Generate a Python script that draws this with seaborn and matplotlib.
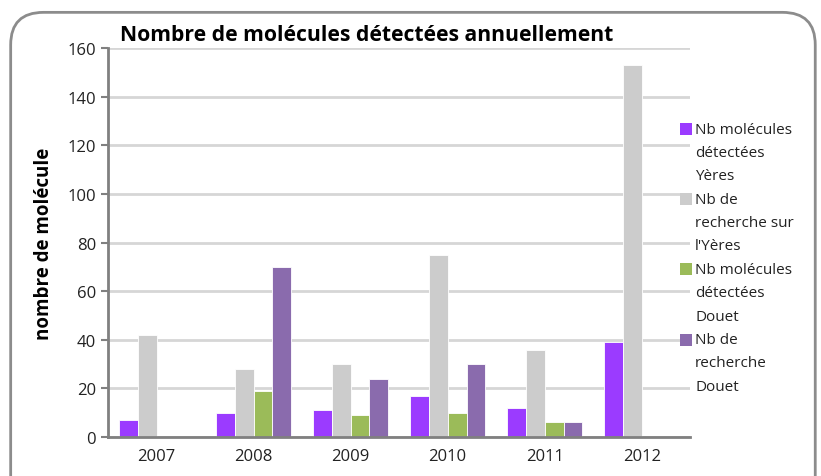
import pandas as pd
import seaborn as sns
import matplotlib.pyplot as plt
from matplotlib.patches import FancyBboxPatch, Rectangle

years = ['2007', '2008', '2009', '2010', '2011', '2012']
series = ['Nb molécules\ndétectées\nYères', 'Nb de\nrecherche sur\nl\'Yères',
          'Nb molécules\ndétectées\nDouet', 'Nb de\nrecherche\nDouet']
det_yeres = [7, 10, 11, 17, 12, 39]
rech_yeres = [42, 28, 30, 75, 36, 153]
det_douet = [0, 19, 9, 10, 6, 0]
rech_douet = [0, 70, 24, 30, 6, 0]
colors = ['#9B3BFF', '#CCCCCC', '#9BBB59', '#8A6BAD']

rows = []
for name, vals in zip(series, [det_yeres, rech_yeres, det_douet, rech_douet]):
    for y, v in zip(years, vals):
        rows.append({'year': y, 'serie': name, 'value': v})
df = pd.DataFrame(rows)

sns.set_theme(style='white')
plt.rcParams['font.family'] = ['Open Sans', 'DejaVu Sans']

W, H = 821, 477
fig = plt.figure(figsize=(W / 100, H / 100), dpi=100)
ax = fig.add_axes([0.1316, 0.0818, 0.709, 0.815])

sns.barplot(data=df, x='year', y='value', hue='serie', palette=colors,
            width=0.78, saturation=1, edgecolor='white', linewidth=0.6, ax=ax, legend=False)

ax.set_ylim(0, 160)
ax.set_xlim(-0.5, 5.5)
ax.set_yticks(range(0, 161, 20))
ax.yaxis.grid(True, color='#D6D6D6', lw=2)
ax.set_axisbelow(True)
ax.set_xlabel('')
ax.set_ylabel('nombre de molécule', fontsize=13.5, fontweight='bold', labelpad=10, color='black')
ax.set_xticks([i - 0.5 for i in range(7)], minor=True)
ax.tick_params(axis='x', which='major', length=0, labelsize=12, pad=8, labelcolor='#222222')
ax.tick_params(axis='x', which='minor', length=5, width=1.5, color='#808080', direction='out')
ax.tick_params(axis='y', length=5, width=1.5, color='#808080', labelsize=12, left=True,
               direction='out', labelcolor='#222222')
for s in ['top', 'right']:
    ax.spines[s].set_visible(False)
for s in ['left', 'bottom']:
    ax.spines[s].set_color('#808080')
    ax.spines[s].set_linewidth(2)

fig.text(120 / W, 1 - 41 / H, 'Nombre de molécules détectées annuellement',
         fontsize=15.2, fontweight='bold', ha='left', va='baseline', color='black')

# legend, drawn line by line so each square sits on the first line of its label
pitch = 23.4
k = 0
for name, c in zip(series, colors):
    y0 = 130 + k * pitch
    fig.patches.append(Rectangle((680 / W, 1 - (y0 + 6) / H), 12 / W, 12 / H,
                                 transform=fig.transFigure, facecolor=c, edgecolor='none'))
    for line in name.split('\n'):
        fig.text(695 / W, 1 - (130 + k * pitch) / H, line, fontsize=11,
                 ha='left', va='center', color='#222222')
        k += 1

frame = FancyBboxPatch((0.013, -0.1), 0.98, 1.072, boxstyle='round,pad=0,rounding_size=0.04',
                       transform=fig.transFigure, fill=False, edgecolor='#8C8C8C', lw=2,
                       clip_on=False, mutation_aspect=1.7)
fig.patches.append(frame)

fig.savefig('out.png', dpi=100)
